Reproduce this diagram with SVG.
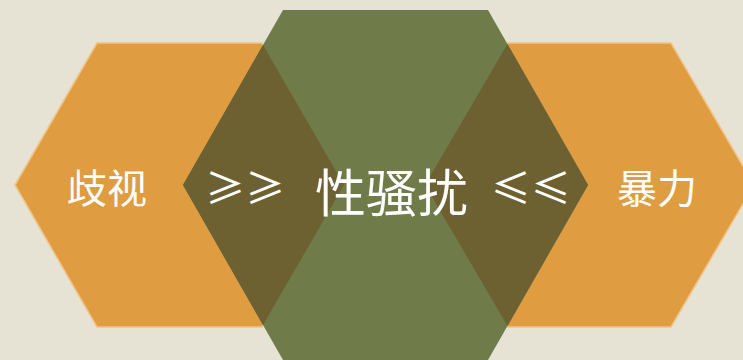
<svg xmlns="http://www.w3.org/2000/svg" width="743" height="360" viewBox="0 0 743 360">
<style>
.orange{fill:#e09c40;stroke:#efc489;stroke-width:1.5}
.green{fill:#6f7c4a}
.dark{fill:#6d6132}
.t{fill:#ffffff;font-family:"Noto Sans CJK SC","Noto Sans",sans-serif}
</style>
<rect width="743" height="360" fill="#e6e3d5"/>
<g id="node-left">
<polygon class="orange" points="15,185 97,43 262,43 344,185 262,327 97,327"/>
</g>
<g id="node-right">
<polygon class="orange" points="425,185 508,43 671,43 754,185 671,327 508,327"/>
</g>
<g id="node-center">
<polygon class="green" points="183,185 283,10 488,10 588,185 488,360 283,360"/>
<polygon class="dark" points="183,185 263,45 344,185 263,325"/>
<polygon class="dark" points="425,185 507.5,44 588,185 507.5,326"/>
</g>
<g id="connectors"></g>
<g id="labels">
<text class="t" x="67" y="203" font-size="40">歧视</text>
<text class="t" x="205" y="203" font-size="40">≥≥</text>
<text class="t" x="315" y="212" font-size="51">性骚扰</text>
<text class="t" x="491" y="203" font-size="40">≤≤</text>
<text class="t" x="617" y="203" font-size="40">暴力</text>
</g>
</svg>
